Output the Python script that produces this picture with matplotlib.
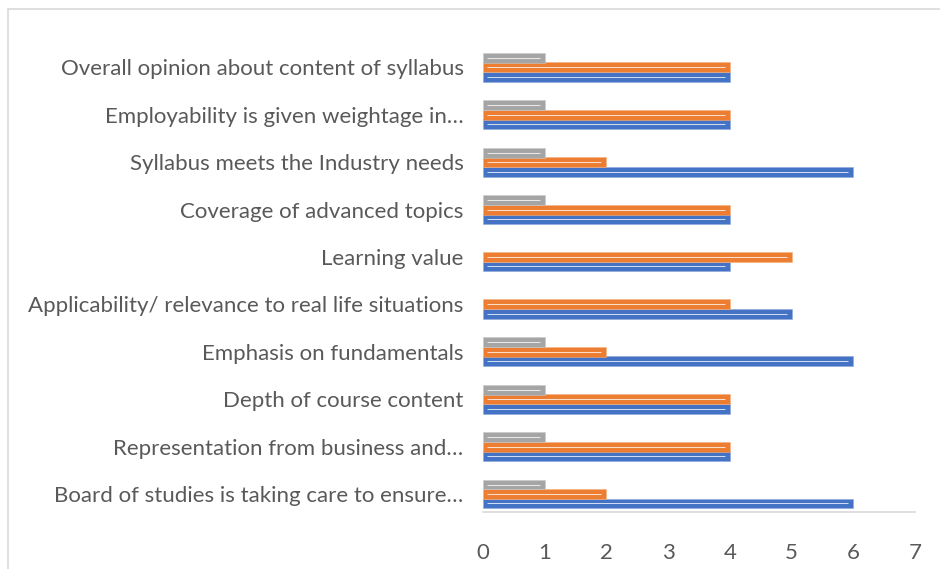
import matplotlib
matplotlib.use("Agg")
import matplotlib.pyplot as plt
from matplotlib.patches import Rectangle

categories = [
    "Board of studies is taking care to ensure…",
    "Representation from business and…",
    "Depth of course content",
    "Emphasis on fundamentals",
    "Applicability/ relevance to real life situations",
    "Learning value",
    "Coverage of advanced topics",
    "Syllabus meets the Industry needs",
    "Employability is given weightage in…",
    "Overall opinion about content of syllabus",
]
blue_vals = [6, 4, 4, 6, 5, 4, 4, 6, 4, 4]
orange_vals = [2, 4, 4, 2, 4, 5, 4, 2, 4, 4]
gray_vals = [1, 1, 1, 1, 0, 0, 1, 1, 1, 1]
xticks = [0, 1, 2, 3, 4, 5, 6, 7]

plt.rcParams['font.family'] = ['Lato', 'DejaVu Sans']

fig = plt.figure(figsize=(9.4, 5.69), dpi=100)
fig.patches.append(Rectangle((8/940, -0.1), 1.2, 1 - 9/569 + 0.1, transform=fig.transFigure,
                             fill=False, edgecolor='#D9D9D9', linewidth=1.2))
ax = fig.add_axes([483/940, 1 - 512/569, (915 - 483)/940, (512 - 43.7)/569])

h = 0.2
series = [(blue_vals, '#4472C4', '#8FAADC', -h), (orange_vals, '#ED7D31', '#F4B183', 0.0),
          (gray_vals, '#A5A5A5', '#C9C9C9', h)]
ys = list(range(len(categories)))
for vals, col, edge, off in series:
    pos = [y + off for y, v in zip(ys, vals) if v > 0]
    nz = [v for v in vals if v > 0]
    ax.barh(pos, nz, height=h * 1.04, color=col, edgecolor=edge, linewidth=0.4, zorder=2)
    for p, v in zip(pos, nz):
        ax.plot([0.06, v - 0.08], [p, p], color='white', alpha=0.75, linewidth=0.75,
                solid_capstyle='butt', zorder=3)

ax.set_xlim(0, 7)
ax.set_ylim(-0.38, 9.5)
ax.set_yticks(ys)
ax.set_yticklabels(categories)
ax.set_xticks(xticks)
ax.tick_params(axis='both', length=0, labelsize=16, colors='#595959')
ax.tick_params(axis='y', pad=14)
ax.tick_params(axis='x', pad=22)
for s in ['top', 'right', 'left']:
    ax.spines[s].set_visible(False)
ax.spines['bottom'].set_color('#D9D9D9')
ax.spines['bottom'].set_linewidth(1.2)

fig.savefig("out.png", dpi=100)
